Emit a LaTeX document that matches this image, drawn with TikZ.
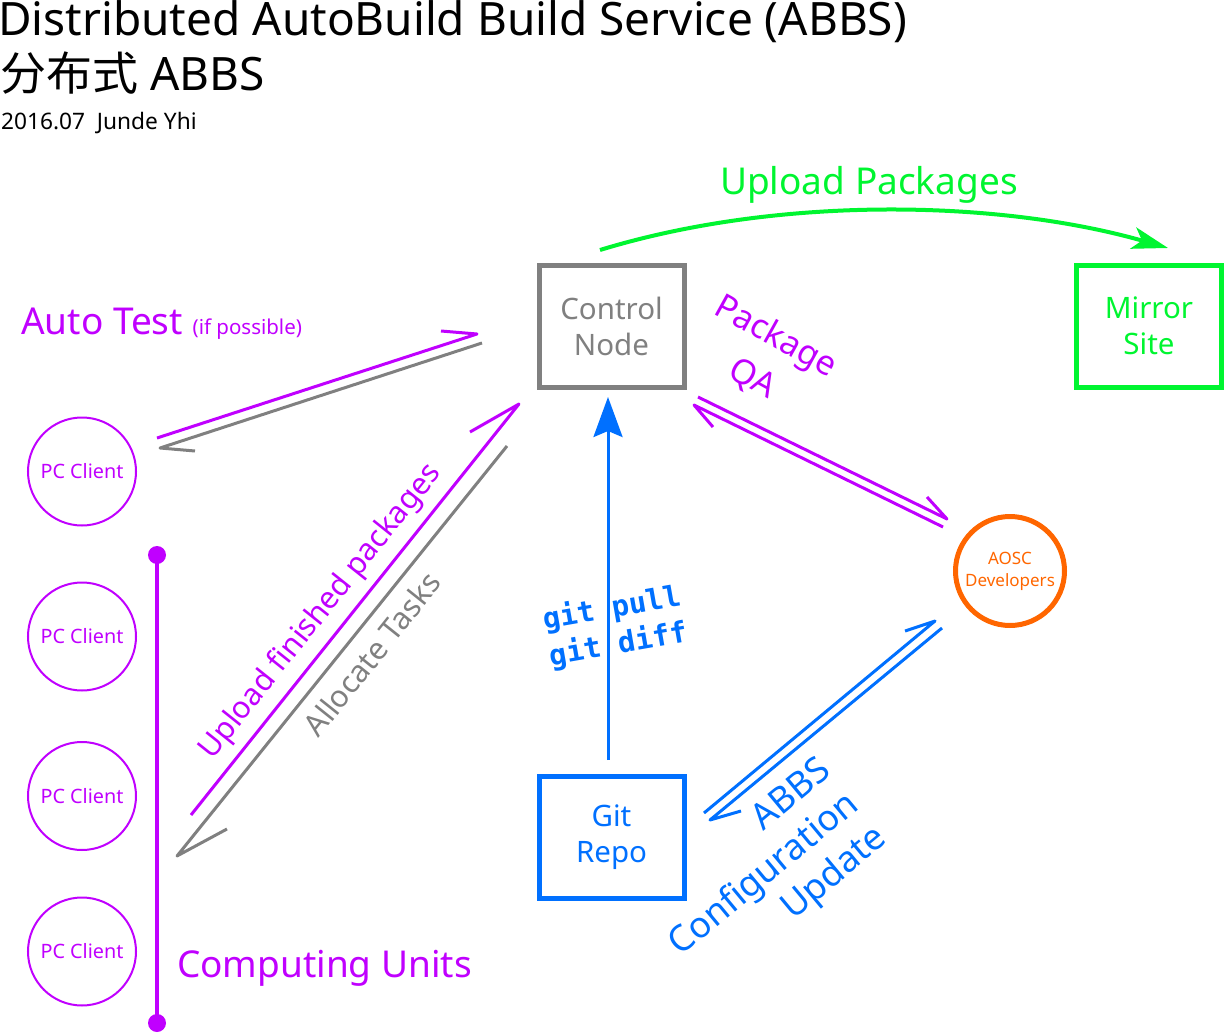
\documentclass[tikz,border=0pt]{standalone}
\usepackage{fontspec}
\setmainfont{Noto Sans}
\setmonofont{DejaVu Sans Mono}
\newfontfamily\cjkfont{Noto Sans CJK SC}
\usetikzlibrary{arrows.meta}
\definecolor{cpurple}{HTML}{C000FF}
\definecolor{cgreen}{HTML}{00F530}
\definecolor{cblue}{HTML}{0070FF}
\definecolor{corange}{HTML}{FF6600}
\definecolor{cgray}{HTML}{808080}
\newcommand{\setfs}[2]{\fontsize{#1}{#2}\selectfont}
\begin{document}
\begin{tikzpicture}[x=1pt,y=-1pt,
  box/.style={draw, line width=5pt, minimum width=145pt, minimum height=122pt, inner sep=0pt, align=center, font=\setfs{29.5}{36}},
  pc/.style={circle, draw=cpurple, line width=2pt, minimum size=108pt, inner sep=0pt, text=cpurple, font=\setfs{19.8}{22}},
  harp/.style={line width=3pt, line join=round},
  lbl/.style={inner sep=0pt},
]
\useasboundingbox (0,0) rectangle (1224,1033);

% title
\node[lbl, anchor=base west, font=\setfs{46}{50}] (title) at (-2,36) {Distributed AutoBuild Build Service (ABBS)};
\node[lbl, anchor=base west, font=\setfs{46}{50}] (subtitle) at (0,91) {{\cjkfont 分布式} ABBS};
\node[lbl, anchor=base west, font=\setfs{22.7}{26}] (date) at (1,129) {2016.07\ \ Junde Yhi};

% nodes
\node[box, draw=cgray, text=cgray] (ctrl) at (611.5,326) {Control\\Node};
\node[box, draw=cgreen, text=cgreen] (mirror) at (1149,326) {Mirror\\Site};
\node[box, draw=cblue, text=cblue] (git) at (611.5,837) {Git\\Repo};
\node[circle, draw=corange, line width=5pt, minimum size=109pt, inner sep=0pt, text=corange, align=center, font=\setfs{17}{22}] (aosc) at (1010,571) {AOSC\\Developers};
\node[pc] (pc1) at (82,471.5) {PC Client};
\node[pc] (pc2) at (82,636.5) {PC Client};
\node[pc] (pc3) at (82,796) {PC Client};
\node[pc] (pc4) at (82,951.5) {PC Client};

% computing units bar
\coordinate (cuTop) at (157,555);
\coordinate (cuBot) at (157,1023);
\draw[cpurple, line width=4pt] (cuTop) -- (cuBot);
\fill[cpurple] (cuTop) circle (9pt);
\fill[cpurple] (cuBot) circle (9pt);
\node[lbl, anchor=base west, text=cpurple, font=\setfs{37}{40}] (cu) at (177,977) {Computing Units};

% upload packages
\coordinate (ulStart) at (600,250);
\coordinate (ulEnd) at (1168,248);
\draw[cgreen, line width=4pt, -{Stealth[length=36pt,width=22pt,inset=9pt]}] (ulStart) .. controls (780,195) and (1000,200) .. (ulEnd);
\node[lbl, anchor=base, text=cgreen, font=\setfs{37}{40}] (ultxt) at (869,194) {Upload Packages};

% git pull
\coordinate (gpS) at (608,760);
\coordinate (gpT) at (608,397);
\draw[cblue, line width=3pt, -{Stealth[length=40pt,width=29pt,inset=6pt]}] (gpS) -- (gpT);
\node[rotate=10, text=cblue, font=\ttfamily\bfseries\setfs{29}{37}, align=left, lbl] (gptxt) at (615,627) {git pull\\git diff};

% auto test pair
\coordinate (a1s) at (157,438); \coordinate (a1t) at (477,334); \coordinate (a1b) at (441,331);
\coordinate (a2s) at (482,343); \coordinate (a2t) at (160,448); \coordinate (a2b) at (195,451);
\draw[harp, cpurple] (a1s) -- (a1t) -- (a1b);
\draw[harp, cgray] (a2s) -- (a2t) -- (a2b);
\node[lbl, anchor=base west, text=cpurple, font=\setfs{37}{40}] (autotest) at (21,334) {Auto Test {\setfs{20.5}{24}(if possible)}};

% upload / allocate pair
\coordinate (b1s) at (191,815); \coordinate (b1t) at (519,404); \coordinate (b1b) at (470,432);
\coordinate (b2s) at (507,446); \coordinate (b2t) at (177,856); \coordinate (b2b) at (227,829);
\draw[harp, cpurple] (b1s) -- (b1t) -- (b1b);
\draw[harp, cgray] (b2s) -- (b2t) -- (b2b);
\node[lbl, rotate=51.4, text=cpurple, font=\setfs{30.5}{36}] (uftxt) at (321,612) {Upload finished packages};
\node[lbl, rotate=51.4, text=cgray, font=\setfs{30.5}{36}] (attxt) at (372,654) {Allocate Tasks};

% package QA pair
\coordinate (c1s) at (698,397); \coordinate (c1t) at (947,519); \coordinate (c1b) at (927,497);
\coordinate (c2s) at (943,527); \coordinate (c2t) at (694,405); \coordinate (c2b) at (713,427);
\draw[harp, cpurple] (c1s) -- (c1t) -- (c1b);
\draw[harp, cpurple] (c2s) -- (c2t) -- (c2b);
\node[lbl, rotate=-29, text=cpurple, align=center, font=\setfs{34}{48}] (qatxt) at (764,358) {Package\\QA};

% ABBS config pair
\coordinate (d1s) at (704,813); \coordinate (d1t) at (935,621); \coordinate (d1b) at (905,631);
\coordinate (d2s) at (942,628); \coordinate (d2t) at (710,820); \coordinate (d2b) at (741,811);
\draw[harp, cblue] (d1s) -- (d1t) -- (d1b);
\draw[harp, cblue] (d2s) -- (d2t) -- (d2b);
\node[lbl, rotate=39.7, anchor=east, text=cblue, align=right, font=\setfs{36}{44}] (cfgtxt) at (855,801) {ABBS\\Configuration\\Update};
\end{tikzpicture}
\end{document}
